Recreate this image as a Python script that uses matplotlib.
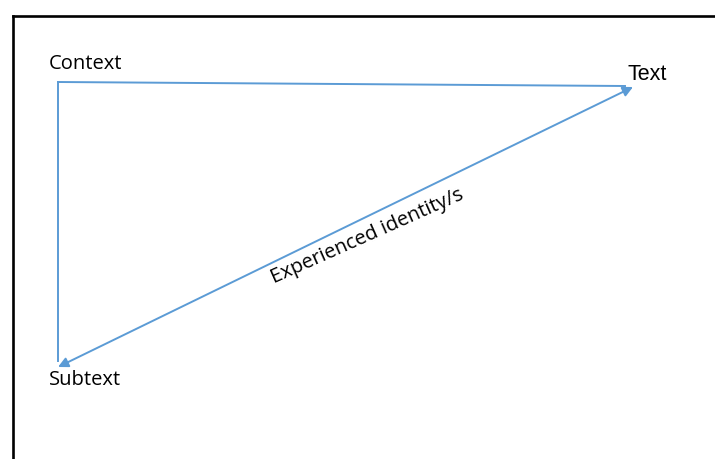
import matplotlib.pyplot as plt

# node labels and where they sit (pixel coords, y down)
labels = ['Context', 'Text', 'Subtext']
label_x = [49, 628, 49]
label_y = [69, 80, 385]
label_font = ['Open Sans', 'Liberation Sans', 'Open Sans']
label_size = [14.5, 15.5, 14.5]

# the three corners of the triangle
corner_ctx = (58, 82)
corner_txt = (633, 87)
corner_sub = (58, 367)

edge_label = 'Experienced identity/s'
blue = '#5b9bd5'

fig = plt.figure(figsize=(7.15, 4.59), dpi=100)
ax = fig.add_axes([0, 0, 1, 1])
ax.set_xlim(0, 715)
ax.set_ylim(459, 0)
ax.axis('off')

# frame, cut off at right and bottom
ax.plot([13, 715], [16, 16], color='black', lw=1.9, solid_capstyle='projecting')
ax.plot([13, 13], [16, 459], color='black', lw=1.9, solid_capstyle='projecting')

# plain edges
ax.plot([corner_ctx[0], corner_txt[0] - 8], [corner_ctx[1], corner_txt[1] - 1],
        color=blue, lw=1.4)
ax.plot([corner_ctx[0], corner_sub[0]], [corner_ctx[1], corner_sub[1] - 6],
        color=blue, lw=1.4)

# diagonal, arrow on both ends
ax.annotate('', xy=corner_txt, xytext=corner_sub,
            arrowprops=dict(arrowstyle='<|-|>', color=blue, lw=1.4,
                            mutation_scale=15, shrinkA=0, shrinkB=0))

for t, x, y, f, s in zip(labels, label_x, label_y, label_font, label_size):
    ax.text(x, y, t, fontsize=s, family=f, color='black',
            ha='left', va='baseline')

ax.text(367, 236, edge_label, fontsize=14.5, family='Open Sans',
        color='black', rotation=24, rotation_mode='anchor',
        ha='center', va='center')

fig.savefig('out.png', dpi=100)
